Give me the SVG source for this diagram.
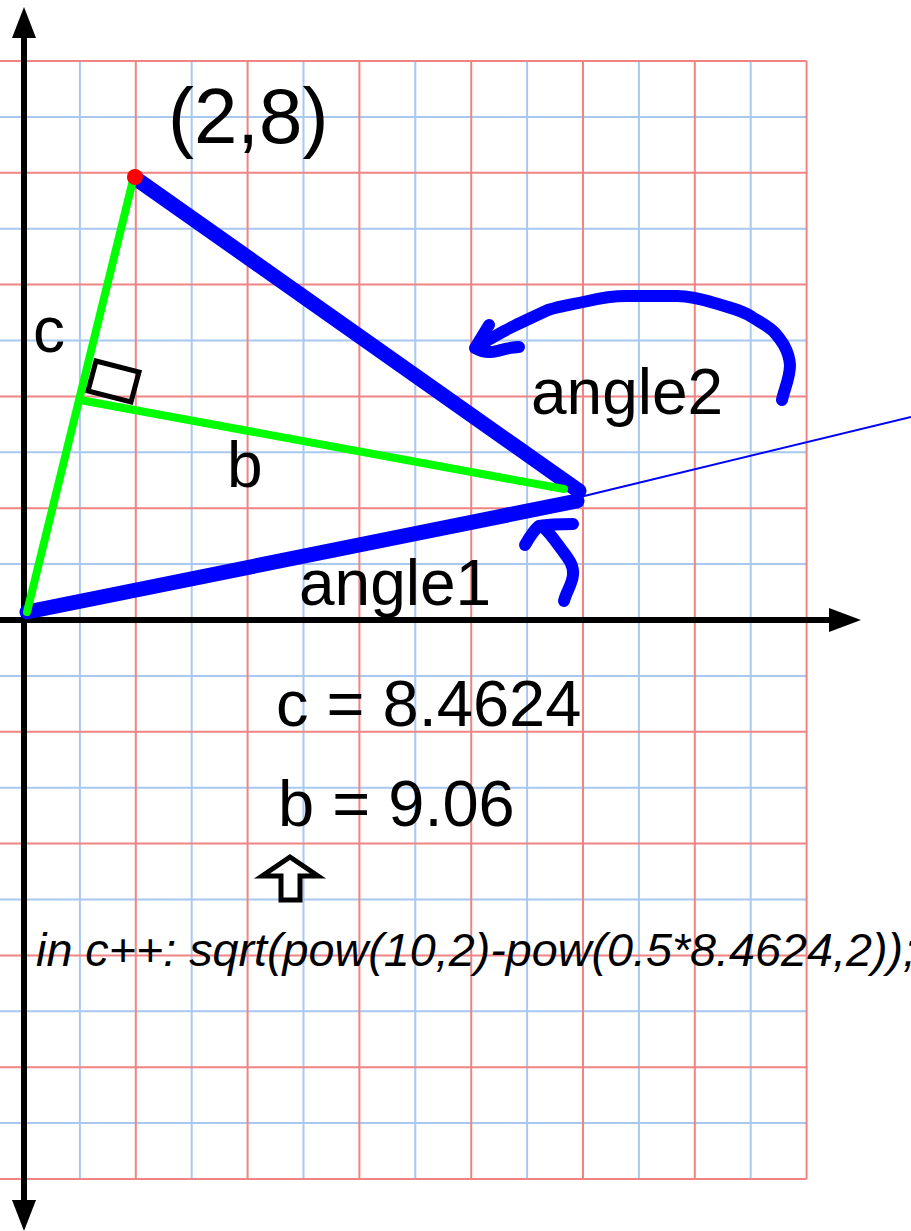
<svg xmlns="http://www.w3.org/2000/svg" width="911" height="1231" viewBox="0 0 911 1231">
<style>
.gb{stroke:#a8c8f0;stroke-width:2;fill:none}
.gr{stroke:#f08484;stroke-width:2;fill:none}
.ax{stroke:#000;stroke-width:6;fill:none}
.thick{stroke:#0000ff;stroke-width:15;stroke-linecap:round;fill:none}
.green{stroke:#00ff00;stroke-width:8;stroke-linecap:round;fill:none}
.hand{stroke:#0000ff;stroke-width:12;stroke-linecap:round;stroke-linejoin:round;fill:none}
.t{font-family:"Liberation Sans",Arial,sans-serif;fill:#000}
</style>
<rect width="911" height="1231" fill="#fff"/>
<g id="grid">
<path class="gb" d="M79.9 61V1179M191.7 61V1179M303.5 61V1179M415.3 61V1179M527.1 61V1179M638.9 61V1179M750.7 61V1179M0 116.9H806.6M0 228.7H806.6M0 340.5H806.6M0 452.3H806.6M0 564.1H806.6M0 675.9H806.6M0 787.7H806.6M0 899.5H806.6M0 1011.3H806.6M0 1123.1H806.6"/>
<path class="gr" d="M24 61V1179M135.8 61V1179M247.6 61V1179M359.4 61V1179M471.2 61V1179M583 61V1179M694.8 61V1179M806.6 61V1179M0 61H806.6M0 172.8H806.6M0 284.6H806.6M0 396.4H806.6M0 508.2H806.6M0 620H806.6M0 731.8H806.6M0 843.6H806.6M0 955.4H806.6M0 1067.2H806.6M0 1179H806.6"/>
</g>
<g id="axes">
<path class="ax" d="M24 36V1202M0 620H830"/>
<polygon points="24,7 12,38 36,38" fill="#000"/>
<polygon points="24,1231 12,1200 36,1200" fill="#000"/>
<polygon points="861,620 829,608 829,632" fill="#000"/>
</g>
<g id="connectors">
<line x1="580" y1="497" x2="911" y2="417" stroke="#0000ff" stroke-width="2"/>
<line class="thick" x1="27" y1="612" x2="577" y2="501"/>
<line class="thick" x1="135" y1="178" x2="579" y2="491"/>
<line class="green" x1="27" y1="612" x2="133" y2="180"/>
<line class="green" x1="80" y1="400" x2="564" y2="489"/>
<polygon points="96,361 139,372 131,402 88,391" fill="none" stroke="#000" stroke-width="5"/>
<path class="hand" d="M782 400 C784 390 790 378 790 365 C789 350 781 340 775 333 C770 327 760 322 752 317 C742 310 730 308 718 304 C705 300 690 296 677 296 L627 296 C612 296 600 298 588 301 C575 304 560 306 548 310 C535 316 522 322 510 328 C500 333 488 340 476 347"/>
<path class="hand" d="M489 325 L475 348 C482 352 490 353 497 351 C505 349 512 347 519 347"/>
<path class="hand" d="M525 545 C529 538 534 530 539 526 C550 524 562 524 573 524"/>
<path class="hand" d="M543 527 C550 533 556 542 562 550 C568 558 574 565 573 575 C572 585 566 592 564 601"/>
<circle cx="135" cy="177" r="8" fill="#ff0000"/>
</g>
<g id="labels">
<text class="t" x="168" y="143" font-size="78">(2,8)</text>
<text class="t" x="33" y="352" font-size="64">c</text>
<text class="t" x="227" y="487" font-size="64">b</text>
<text class="t" x="531" y="414" font-size="64">angle2</text>
<text class="t" x="299" y="605" font-size="64">angle1</text>
<text class="t" x="276" y="726" font-size="65">c = 8.4624</text>
<text class="t" x="278" y="826" font-size="65">b = 9.06</text>
</g>
<g id="uparrow">
<polygon points="290,857 318,876 300,876 300,900 281,900 281,876 262,876" fill="#fff" stroke="#000" stroke-width="5" stroke-linejoin="miter"/>
</g>
<g id="code">
<text class="t" x="36" y="966" font-size="46" font-style="italic" textLength="880" lengthAdjust="spacingAndGlyphs">in c++: sqrt(pow(10,2)-pow(0.5*8.4624,2));</text>
</g>
</svg>
